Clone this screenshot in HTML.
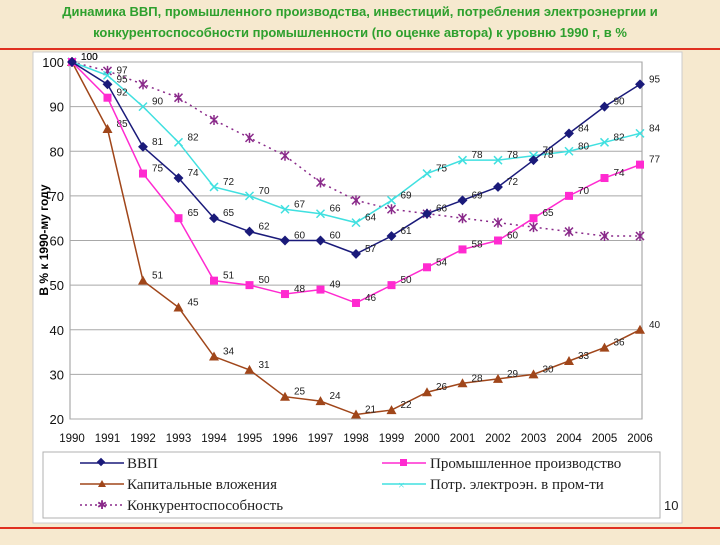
<!DOCTYPE html>
<html><head><meta charset="utf-8">
<style>
body{margin:0;width:720px;height:540px;background:#f7ead0;overflow:hidden;font-family:"Liberation Sans",sans-serif}
</style></head>
<body>
<svg width="720" height="540" xmlns="http://www.w3.org/2000/svg">
<rect x="0" y="0" width="720" height="540" fill="#f6e9cf"/>
<text x="360" y="16" text-anchor="middle" font-size="13" font-weight="bold" fill="#2ea02e">Динамика ВВП, промышленного производства, инвестиций, потребления электроэнергии и</text>
<text x="360" y="37" text-anchor="middle" font-size="13" font-weight="bold" fill="#2ea02e">конкурентоспособности промышленности (по оценке автора) к уровню 1990 г, в %</text>
<line x1="0" y1="49" x2="720" y2="49" stroke="#e03020" stroke-width="2"/>
<line x1="0" y1="528" x2="720" y2="528" stroke="#e03020" stroke-width="2"/>
<rect x="33" y="52" width="649" height="471" fill="#ffffff" stroke="#cccccc"/>
<g id="plot"></g>
<text transform="translate(48,240) rotate(-90)" text-anchor="middle" font-size="12" font-weight="bold" fill="#000">В % к 1990-му году</text>
<rect x="43" y="452" width="617" height="66" fill="#fff" stroke="#b0b0b0"/>
<g font-family="Liberation Serif, serif" font-size="15" fill="#222">
<g><line x1="80" y1="463" x2="124" y2="463" stroke="#1a1a7a" stroke-width="1.5"/><rect x="98" y="459" width="6" height="6" fill="#1a1a7a" transform="rotate(45 101 462)"/><text x="127" y="468">ВВП</text></g>
<g><line x1="80" y1="484" x2="124" y2="484" stroke="#a0461a" stroke-width="1.5"/><polygon points="102,480 98,487 106,487" fill="#a0461a"/><text x="127" y="489">Капитальные вложения</text></g>
<g><line x1="80" y1="505" x2="124" y2="505" stroke="#8a2a8a" stroke-width="1.5" stroke-dasharray="2,3"/><text x="97" y="509" font-size="12" fill="#8a2a8a">✱</text><text x="127" y="510">Конкурентоспособность</text></g>
<g><line x1="382" y1="463" x2="426" y2="463" stroke="#ff2ad0" stroke-width="1.5"/><rect x="400" y="459" width="7" height="7" fill="#ff2ad0"/><text x="430" y="468">Промышленное производство</text></g>
<g><line x1="382" y1="484" x2="426" y2="484" stroke="#40e0e0" stroke-width="1.5"/><text x="398" y="489" font-size="12" fill="#40e0e0">×</text><text x="430" y="489">Потр. электроэн. в пром-ти</text></g>
</g>
<text x="664" y="510" font-size="13" fill="#222">10</text>
</svg>
<script>
const years=[1990,1991,1992,1993,1994,1995,1996,1997,1998,1999,2000,2001,2002,2003,2004,2005,2006];
const gdp=[100,95,81,74,65,62,60,60,57,61,66,69,72,78,84,90,95];
const industrial=[100,92,75,65,51,50,48,49,46,50,54,58,60,65,70,74,77];
const capital=[100,85,51,45,34,31,25,24,21,22,26,28,29,30,33,36,40];
const electricity=[100,97,90,82,72,70,67,66,64,69,75,78,78,79,80,82,84];
const competitiveness=[100,98,95,92,87,83,79,73,69,67,66,65,64,63,62,61,61];
const yTicks=[20,30,40,50,60,70,80,90,100];
const NS='http://www.w3.org/2000/svg';
const X0=72,X1=640,Y0=419,Y1=62;
function xs(i){return X0+(X1-X0)*i/(years.length-1);}
function ys(v){return Y0-(v-20)/(100-20)*(Y0-Y1);}
const g=document.getElementById('plot');
function mk(t,a,p){const e=document.createElementNS(NS,t);for(const k in a)e.setAttribute(k,a[k]);(p||g).appendChild(e);return e;}
mk('rect',{x:X0-2,y:Y1,width:X1-X0+4,height:Y0-Y1,fill:'#fff',stroke:'#999'});
yTicks.forEach(v=>{
 const l=mk('line',{x1:X0-2,x2:X1+2,y1:ys(v),y2:ys(v),stroke:'#a8a8a8'});
 
 
 const t=mk('text',{x:X0-8,y:ys(v)+5,'text-anchor':'end','font-size':13,fill:'#111'});t.textContent=v;
 
 
});
years.forEach((yr,i)=>{
 const t=mk('text',{x:xs(i),y:Y0+23,'text-anchor':'middle','font-size':11.5,fill:'#111'});t.textContent=yr;
 
 
});
function series(name,vals,color,marker,dash,labels){
 const sg=mk('g',{});
 
 
 const pts=vals.map((v,i)=>xs(i)+','+ys(v)).join(' ');
 const a={points:pts,fill:'none',stroke:color,'stroke-width':1.5};if(dash)a['stroke-dasharray']=dash;
 mk('polyline',a,sg);
 vals.forEach((v,i)=>{
  const x=xs(i),y=ys(v);let m;
  if(marker==='d')m=mk('rect',{x:x-3.5,y:y-3.5,width:7,height:7,fill:color,transform:`rotate(45 ${x} ${y})`},sg);
  else if(marker==='s')m=mk('rect',{x:x-4,y:y-4,width:8,height:8,fill:color},sg);
  else if(marker==='t')m=mk('polygon',{points:`${x},${y-5} ${x-5},${y+4} ${x+5},${y+4}`,fill:color},sg);
  else if(marker==='x')m=mk('path',{d:`M${x-4},${y-4}L${x+4},${y+4}M${x-4},${y+4}L${x+4},${y-4}`,stroke:color,'stroke-width':1.5},sg);
  else m=mk('path',{d:`M${x-4},${y-4}L${x+4},${y+4}M${x-4},${y+4}L${x+4},${y-4}M${x},${y-5}L${x},${y+5}`,stroke:color,'stroke-width':1.5},sg);
  
  
  if(labels){const t=mk('text',{x:x+9,y:y+(labels==='below'?12:-2),'font-size':10,fill:'#222'},sg);t.textContent=v;}
 });
}
series('competitiveness',competitiveness,'#8a2a8a','*','2,4',null);
series('electricity',electricity,'#40e0e0','x',null,'above');
series('capital',capital,'#a0461a','t',null,'above');
series('industrial',industrial,'#ff2ad0','s',null,'above');
series('gdp',gdp,'#1a1a7a','d',null,'above');
</script>
</body></html>
